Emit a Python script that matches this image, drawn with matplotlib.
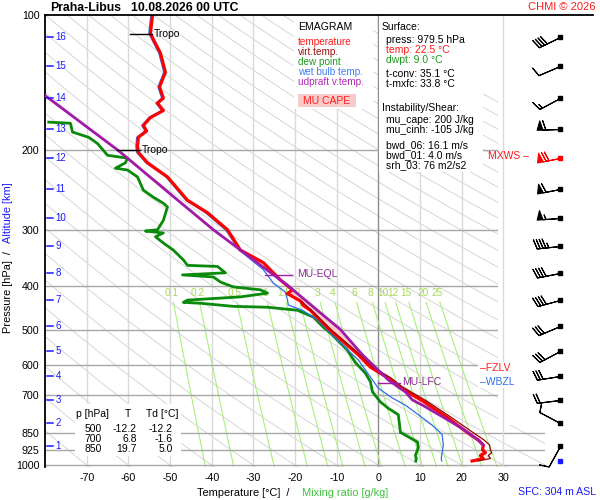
import numpy as np
import matplotlib.pyplot as plt
from matplotlib.patches import Rectangle
from matplotlib.lines import Line2D

plt.rcParams['font.family'] = ['Liberation Sans', 'DejaVu Sans']

# sounding values (pressure hPa, temperature degC)
p_temp = [979.5, 967, 952, 939, 925, 903, 880, 850, 787, 720, 705, 669, 641, 606, 569,
          502, 453, 442, 432, 416, 408, 388, 355, 333, 300, 275, 258, 229, 213, 202,
          196, 187, 181, 176, 169, 163, 157, 153, 144.5, 134, 121.5, 110, 100]
temp = [22.5, 25.2, 24.5, 25.7, 25.0, 25.2, 24.0, 21.6, 16.8, 10.6, 8.9, 4.8, 2.4, -1.9, -4.8,
        -11.5, -16.3, -18.0, -18.7, -21.8, -20.6, -23.5, -27.6, -33.1, -36.2, -41.0, -45.8, -50.6, -55.4, -57.6,
        -57.8, -57.6, -55.6, -56.4, -54.7, -51.6, -53.0, -51.6, -52.5, -51.1, -52.3, -54.7, -54.2]

p_virt = [979.5, 967, 952, 939, 925, 903, 880, 850, 787, 720, 705, 669, 641, 606, 569, 502, 453, 432]
virt = [23.9, 26.9, 26.4, 27.2, 26.9, 26.7, 25.4, 23.0, 17.8, 11.5, 9.8, 5.6, 3.1, -1.3, -4.3, -11.2, -16.1, -18.5]

p_dew = [979.5, 967, 952, 915, 889, 846, 773, 748, 724, 688, 653, 625, 592, 556, 509, 494, 469,
         453, 446, 444, 437, 435, 430, 423, 415, 408, 402, 392, 382, 378, 374, 362, 360, 350,
         333, 321, 311, 305, 302, 300, 286, 267, 262, 254, 245, 229, 221, 219, 213, 208, 205,
         193, 187, 182, 174, 173]
dew = [9.0, 9.1, 8.9, 9.6, 9.4, 5.3, 4.8, 2.4, 0.5, -1.4, -1.9, -3.1, -5.5, -7.4, -11.5, -13.2, -15.6,
       -19.4, -26.6, -34.8, -42.7, -46.8, -45.8, -33.1, -26.6, -28.3, -34.8, -37.9, -39.6, -47.0, -36.7, -38.6, -45.8, -46.8,
       -49.2, -51.6, -53.5, -51.6, -55.9, -53.0, -51.6, -50.6, -51.6, -54.0, -56.4, -57.8, -60.2, -63.1, -60.7, -60.2, -65.0,
       -67.4, -69.5, -73.4, -73.9, -79.1]

p_wet = [979.5, 967, 939, 903, 855, 815, 773, 736, 710, 675, 647, 606, 584, 528, 476, 453, 441,
         430, 413, 394, 368, 333, 300, 275, 258, 229, 213, 202, 196, 187, 181, 176, 169,
         163, 157, 153, 144.5, 134, 121.5, 110, 100]
wet = [15.2, 15.1, 15.3, 15.6, 15.3, 12.9, 9.6, 6.5, 3.4, 0.0, -1.4, -3.6, -4.8, -9.8, -14.6, -18.2, -21.6,
       -21.8, -22.3, -25.2, -27.6, -33.4, -36.7, -41.5, -46.2, -51.0, -55.8, -58.0, -58.2, -58.0, -56.0, -56.8, -55.1,
       -52.0, -53.4, -52.0, -52.9, -51.5, -52.7, -55.1, -54.6]

p_parcel = [903, 880, 829, 781, 736, 717, 688, 647, 569, 500, 400, 300, 250, 200, 151]
parcel = [25.2, 24.0, 20.1, 15.4, 10.6, 8.2, 6.5, 2.4, -3.8, -9.1, -21.6, -39.6, -49.9, -62.4, -80.0]

# altitude marks (km) and the pressure where they sit
alt_km = list(range(1, 17))
alt_p = [907, 807, 717, 634, 558, 491, 430, 374, 326, 283, 244, 208, 179, 153, 130, 112]

# winds at the altitude marks: direction (deg) and speed (kt)
wind_dir = [209, 298, 263, 261, 242, 247, 255, 259, 264, 266, 259, 259, 268, 242, 247, 244]
wind_spd = [10, 10, 20, 30, 30, 30, 40, 40, 45, 55, 60, 70, 60, 15, 10, 40]
mxws_km = 12

tropo_p = [110, 200]
tropo_t = [-54.7, -57.6]
eql_p, eql_t = 378, -20.7
lfc_p, lfc_t = 657, 0.0
cape_top, cape_bot = 378, 650

mix_ratios = [0.1, 0.2, 0.5, 1, 1.5, 2, 3, 4, 6, 8, 10, 12, 15, 20, 25]
p_levels = [200, 300, 400, 500, 600, 700, 850, 925, 1000]
t_ticks = [-70, -60, -50, -40, -30, -20, -10, 0, 10, 20, 30]

table_rows = [("500", "-12.2", "-12.2"), ("700", "6.8", "-1.6"), ("850", "19.7", "5.0")]

W, H = 600, 500
def fx(x):
    return x / W
def fy(y):
    return 1 - y / H

fig = plt.figure(figsize=(6, 5), dpi=100)
ax = fig.add_axes([fx(45), fy(467), 500 / W, 452 / H])
ax.set_yscale('log')
ax.set_ylim(1010, 100)
ax.set_xlim(-80, 40)
for s in ['top', 'right', 'bottom']:
    ax.spines[s].set_visible(False)
ax.spines['left'].set_linewidth(1.3)

ax.set_yticks([100] + p_levels)
ax.set_yticklabels([str(v) for v in [100] + p_levels], fontsize=7.7)
ax.yaxis.set_minor_locator(plt.NullLocator())
ax.set_xticks(t_ticks)
ax.set_xticklabels([str(v) for v in t_ticks], fontsize=7.7)
ax.tick_params(length=0, pad=4)

# background lines
pp = np.logspace(2, np.log10(1010), 120)
for tc in range(-80, 250, 10):
    ax.plot((tc + 273.15) * (pp / 1000) ** 0.2857 - 273.15, pp, color='#d6d6d6', lw=0.7, zorder=1)
for t in t_ticks:
    ax.axvline(t, color='#8c8c8c' if t == 0 else '#dadada', lw=1, zorder=1.2 if t != 30 else 2.5)
for p in p_levels:
    ax.hlines(p, -80, 40 if p >= 850 else 28.6, color='#a8a8a8', lw=1, zorder=1.5)

pm = np.logspace(np.log10(435), np.log10(1010), 60)
for w in mix_ratios:
    lg = np.log(w * pm / (622 + w) / 6.112)
    ax.plot(243.5 * lg / (17.67 - lg), pm, color='#a8f07c', lw=0.8, zorder=1.3)
    lg0 = np.log(w * 415 / (622 + w) / 6.112)
    ax.text(243.5 * lg0 / (17.67 - lg0), 415, str(w), color='#a6d85a', fontsize=7.3,
            ha='center', va='center', zorder=1.4)

ax.add_patch(Rectangle((28.6, 100), 11.4, 715, facecolor='white', edgecolor='none', zorder=2))

# CAPE area
pg = np.linspace(cape_top, cape_bot, 80)
par_g = np.interp(pg, p_parcel[::-1], parcel[::-1])
tv_g = np.interp(pg, p_temp[::-1], temp[::-1])
ax.fill_betweenx(pg, tv_g, par_g, where=par_g >= tv_g, color='#f9cdcd', lw=0, zorder=3)

# sounding curves
ax.plot(dew, p_dew, color='#0a8a0a', lw=2.0, zorder=5)
ax.plot(wet, p_wet, color='#2f6fe8', lw=0.9, zorder=6)
ax.plot(temp, p_temp, color='#ff0000', lw=2.3, zorder=7)
ax.plot(virt, p_virt, color='#9a0000', lw=0.9, zorder=7.5)
ax.plot(parcel, p_parcel, color='#a11aa8', lw=2.0, zorder=8)

# level markers
for p, t in zip(tropo_p, tropo_t):
    ax.plot([t - 5, t + 0.3], [p, p], color='k', lw=1, zorder=9)
    ax.text(t + 0.8, p, 'Tropo', fontsize=7.5, va='center', zorder=9)
ax.plot([eql_t - 6.5, eql_t], [eql_p, eql_p], color='#a11aa8', lw=1, zorder=9)
ax.text(eql_t + 1.3, eql_p - 2, 'MU-EQL', color='#8b2a93', fontsize=7.5, va='center', zorder=9)
ax.plot([lfc_t, lfc_t + 5.3], [lfc_p, lfc_p], color='#a11aa8', lw=1, zorder=9)
ax.text(lfc_t + 5.6, lfc_p - 3, 'MU-LFC', color='#8b2a93', fontsize=7.5, va='center', zorder=9)

# altitude marks
ytr = ax.get_yaxis_transform()
for km, p in zip(alt_km, alt_p):
    ax.plot([0.004, 0.015], [p, p], color='#1a1aff', lw=1.1, transform=ytr, clip_on=False, zorder=9)
    ax.text(0.021, p, str(km), color='#1a1aff', fontsize=7, va='center', transform=ytr, zorder=9)

# wind barbs
axw = fig.add_axes([fx(503), fy(467), 97 / W, 452 / H])
axw.set_yscale('log')
axw.set_ylim(1010, 100)
axw.set_xlim(0, 97)
axw.axis('off')
d = np.radians(wind_dir)
u = -np.array(wind_spd) * np.sin(d)
v = -np.array(wind_spd) * np.cos(d)
cols = ['red' if km == mxws_km else 'black' for km in alt_km]
for i in range(len(alt_km)):
    axw.barbs([57], [alt_p[i]], [u[i]], [v[i]], length=5.8, lw=0.8,
              barbcolor=cols[i], flagcolor=cols[i])
    axw.plot(57, alt_p[i], 's', ms=2.2, color=cols[i])
axw.plot(57, 977, 's', ms=2.2, color='#1a1aff')

# white boxes with text
def box(x0, y0, x1, y1, color='white'):
    fig.add_artist(Rectangle((fx(x0), fy(y1)), (x1 - x0) / W, (y1 - y0) / H,
                             transform=fig.transFigure, facecolor=color, edgecolor='none', zorder=3))

def txt(x, y, s, color='black', size=7.5, **kw):
    fig.text(fx(x), fy(y), s, color=color, fontsize=size, va='center', zorder=4, **kw)

box(294, 16, 373, 109)
txt(298, 27, 'EMAGRAM', size=7.6)
leg_labels = ['temperature', 'virt.temp.', 'dew point', 'wet bulb temp.', 'udpraft v.temp.']
leg_colors = ['#ff1a1a', '#9a1010', '#1f9a1f', '#3d7cf0', '#b02ab8']
for i, (lab, c) in enumerate(zip(leg_labels, leg_colors)):
    txt(298, 42 + 10 * i, lab, color=c, size=7.2)
box(298, 94, 356, 107, color='#f8caca')
txt(303, 101, 'MU CAPE', color='#ff2020', size=7.5)

box(379, 16, 483, 172)
info = [(382, 27, 'Surface:', 'black'), (386, 40, 'press: 979.5 hPa', 'black'),
        (386, 50, 'temp: 22.5 °C', '#ff1a1a'), (386, 60, 'dwpt: 9.0 °C', '#1f9a1f'),
        (386, 74, 't-conv: 35.1 °C', 'black'), (386, 84, 't-mxfc: 33.8 °C', 'black'),
        (382, 108, 'Instability/Shear:', 'black'), (386, 120, 'mu_cape: 200 J/kg', 'black'),
        (386, 130, 'mu_cinh: -105 J/kg', 'black'), (386, 145, 'bwd_06: 16.1 m/s', 'black'),
        (386, 155, 'bwd_01: 4.0 m/s', 'black'), (386, 165, 'srh_03: 76 m2/s2', 'black')]
for x, y, s, c in info:
    txt(x, y, s, color=c)

box(75, 404, 181, 456)
txt(76, 414, 'p [hPa]')
txt(125, 414, 'T')
txt(146, 414, 'Td [°C]')
for i, row in enumerate(table_rows):
    txt(102, 429 + 10 * i, row[0], ha='right')
    txt(137, 429 + 10 * i, row[1], ha='right')
    txt(173, 429 + 10 * i, row[2], ha='right')

box(478, 362, 523, 388)
txt(480, 368, '–FZLV', color='#ff1a1a', size=7.5)
txt(480, 382, '–WBZL', color='#2f6fe8', size=7.5)
txt(529, 156, 'MXWS –', color='#ff1a1a', size=7.5, ha='right')

# titles and labels
fig.add_artist(Line2D([fx(45), fx(593)], [fy(15), fy(15)], color='black', lw=1.3))
txt(50, 8, 'Praha-Libus', size=8.8, weight='bold')
txt(131, 8, '10.08.2026 00 UTC', size=8.8, weight='bold')
txt(596, 7, 'CHMI © 2026', color='#ff1a1a', size=8, ha='right')
txt(596, 492, 'SFC: 304 m ASL', color='#1a1aff', size=7.6, ha='right')
txt(197, 493, 'Temperature [°C]  /', size=7.9)
txt(302, 493, 'Mixing ratio [g/kg]', color='#3fc03f', size=7.9)
fig.text(fx(8), fy(333), 'Pressure [hPa]  /', rotation=90, ha='center', va='bottom', fontsize=7.9)
fig.text(fx(8), fy(243), 'Altitude [km]', rotation=90, ha='center', va='bottom', fontsize=7.9, color='#1a1aff')

fig.savefig('out.png', dpi=100)
